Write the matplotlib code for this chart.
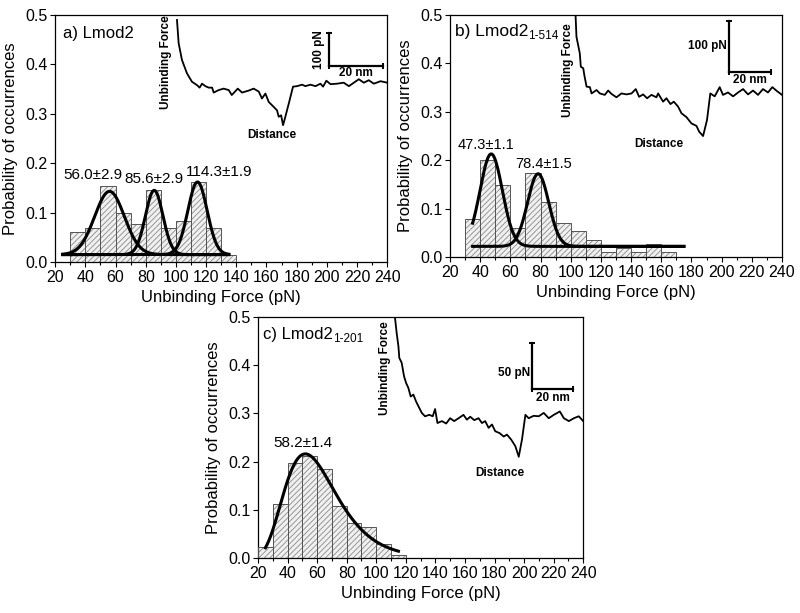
import numpy as np
import matplotlib
matplotlib.use("Agg")
import matplotlib.pyplot as plt
from matplotlib.ticker import MultipleLocator

plt.rcParams['font.family'] = ['Liberation Sans', 'DejaVu Sans']
plt.rcParams['hatch.linewidth'] = 0.6

# ---------------- data ----------------
# panel a
a_bin_left = [30, 40, 50, 60, 70, 80, 90, 100, 110, 120, 130]
a_prob = [0.061, 0.069, 0.153, 0.100, 0.076, 0.145, 0.069, 0.084, 0.161, 0.069, 0.015]
a_centers = [56.0, 85.6, 114.3]
a_amps = [0.128, 0.130, 0.147]
a_sigmas = [9.8, 5.8, 6.4]
a_base = 0.015
a_fit_range = [25, 135]
a_labels = ["56.0±2.9", "85.6±2.9", "114.3±1.9"]

# panel b
b_bin_left = [30, 40, 50, 60, 70, 80, 90, 100, 110, 120, 130, 140, 150, 160]
b_prob = [0.079, 0.200, 0.149, 0.061, 0.174, 0.114, 0.070, 0.053, 0.036, 0.010, 0.019, 0.010, 0.026, 0.010]
b_centers = [47.3, 78.4]
b_amps = [0.191, 0.150]
b_sigmas = [7.4, 7.0]
b_base = 0.022
b_fit_range = [35, 175]
b_labels = ["47.3±1.1", "78.4±1.5"]

# panel c
c_bin_left = [20, 30, 40, 50, 60, 70, 80, 90, 100, 110]
c_prob = [0.022, 0.113, 0.198, 0.212, 0.184, 0.107, 0.072, 0.064, 0.029, 0.007]
c_center = 52.0
c_amp = 0.216
c_width = 0.34
c_fit_range = [25, 115]
c_labels = ["58.2±1.4"]

# inset force traces (in main-axes data coordinates)
a_trace_x = [100.7, 101.8, 104, 107.3, 110.6, 114, 115.7, 117.3, 119.5, 121.7, 124, 125, 128.3, 131.6,
             135, 137, 141, 143.8, 148.2, 151.5, 154.9, 157, 159.3, 161.5, 164.8, 167, 168.1, 169.7,
             171, 172.5, 174.8, 177.6, 180.3, 183.6, 185.8, 189.1, 192.5, 195.8, 197.5, 199.7, 202.4,
             206.8, 211.2, 214.6, 217.9, 221.2, 224.5, 227.8, 231.1, 235.6, 240]
a_trace_y = [0.49, 0.443, 0.409, 0.382, 0.365, 0.358, 0.353, 0.361, 0.356, 0.353, 0.353, 0.343, 0.348,
             0.351, 0.348, 0.338, 0.351, 0.343, 0.347, 0.351, 0.345, 0.331, 0.341, 0.324, 0.314, 0.307,
             0.294, 0.297, 0.277, 0.294, 0.321, 0.355, 0.356, 0.359, 0.356, 0.359, 0.356, 0.361, 0.355,
             0.367, 0.360, 0.361, 0.363, 0.356, 0.363, 0.370, 0.363, 0.368, 0.361, 0.366, 0.363]

b_trace_x = [103.2, 103.8, 106, 106.7, 108.3, 109, 110.5, 112.7, 113.8, 117.1, 119.3, 122.6, 124.8, 127,
             130.3, 133.6, 137, 140.3, 143.1, 145.3, 148, 150.6, 153.5, 156.8, 157.9, 161.2, 163.4,
             166.1, 168.3, 171.1, 173.4, 176.7, 180, 183.3, 185.1, 187.7, 190.3, 192.5, 195.4, 198.7,
             200.9, 204.2, 207.6, 210.9, 214.2, 217.5, 220.8, 224.1, 227.4, 230.7, 233.6, 236.2, 240]
b_trace_y = [0.5, 0.455, 0.421, 0.393, 0.39, 0.376, 0.352, 0.351, 0.338, 0.345, 0.338, 0.335, 0.344,
             0.337, 0.33, 0.338, 0.336, 0.338, 0.347, 0.331, 0.336, 0.328, 0.335, 0.33, 0.338, 0.321,
             0.328, 0.316, 0.321, 0.311, 0.297, 0.289, 0.276, 0.271, 0.259, 0.25, 0.283, 0.338, 0.332,
             0.351, 0.335, 0.34, 0.332, 0.34, 0.347, 0.336, 0.344, 0.335, 0.347, 0.34, 0.351, 0.344, 0.335]

c_trace_x = [112.7, 113.8, 115, 115.6, 117.2, 118.8, 120.2, 121.7, 123.3, 125.1, 126.9, 128.5, 130.8,
             133, 135.9, 138.2, 139.8, 141.4, 144.4, 147.3, 150, 152.7, 155.7, 159, 161.3, 163.6, 166.3,
             169.2, 171.5, 173.7, 176, 178.3, 180.5, 183.5, 186.2, 188.4, 191.2, 194.1, 196.4, 198.6,
             200.9, 203.1, 206.5, 209.9, 213.3, 216.7, 220.1, 224.2, 226.9, 230.3, 233.7, 237, 240]
c_trace_y = [0.498, 0.467, 0.439, 0.415, 0.405, 0.377, 0.363, 0.353, 0.335, 0.339, 0.325, 0.315, 0.301,
             0.294, 0.297, 0.294, 0.309, 0.28, 0.284, 0.279, 0.29, 0.284, 0.29, 0.297, 0.287, 0.293,
             0.286, 0.29, 0.28, 0.284, 0.27, 0.277, 0.263, 0.259, 0.252, 0.256, 0.246, 0.232, 0.21,
             0.246, 0.297, 0.29, 0.295, 0.294, 0.301, 0.29, 0.297, 0.304, 0.29, 0.284, 0.29, 0.294, 0.284]

xlabel = "Unbinding Force (pN)"
ylabel = "Probability of occurrences"

fig = plt.figure(figsize=(8.0, 6.13), dpi=100)

def setup(ax):
    ax.set_xlim(20, 240)
    ax.set_ylim(0, 0.5)
    ax.xaxis.set_major_locator(MultipleLocator(20))
    ax.xaxis.set_minor_locator(MultipleLocator(10))
    ax.set_yticks(np.arange(0, 0.51, 0.1))
    ax.set_yticklabels(["0.0", "0.1", "0.2", "0.3", "0.4", "0.5"])
    ax.tick_params(axis='both', which='major', direction='out', length=3.5, width=0.8, labelsize=11.5)
    ax.tick_params(axis='x', which='major', pad=2)
    ax.tick_params(axis='y', which='major', pad=2)
    ax.tick_params(axis='both', which='minor', direction='out', length=2.5, width=0.8)
    ax.set_xlabel(xlabel, fontsize=12, labelpad=4)
    ax.set_ylabel(ylabel, fontsize=12, labelpad=5)
    for s in ax.spines.values():
        s.set_linewidth(0.9)

def hist(ax, lefts, probs):
    ax.bar(lefts, probs, width=10, align='edge', facecolor='#f0f0f0', edgecolor='#8a8a8a',
           hatch='//////', linewidth=0, zorder=2)
    ax.bar(lefts, probs, width=10, align='edge', facecolor='none', edgecolor='#555555',
           linewidth=0.7, zorder=3)

def inset(ax, tx, ty, uf_xy, dist_xy, vbar, hbar, pn_text, pn_xy, pn_rot, nm_xy):
    ax.plot(tx, ty, color='black', lw=1.3, zorder=4)
    ax.text(uf_xy[0], uf_xy[1], "Unbinding Force", rotation=90, fontsize=8.5, fontweight='bold',
            ha='center', va='center')
    ax.text(dist_xy[0], dist_xy[1], "Distance", fontsize=8.5, fontweight='bold', ha='center', va='center')
    # scale bars
    ax.plot([vbar[0], vbar[0]], [vbar[1], vbar[2]], color='black', lw=1.6)
    ax.plot([hbar[0], hbar[1]], [hbar[2], hbar[2]], color='black', lw=1.6)
    ax.plot([vbar[0]], [vbar[2]], marker='_', color='black', ms=5, mew=1.4)
    ax.plot([hbar[1]], [hbar[2]], marker='|', color='black', ms=5, mew=1.4)
    ax.plot([hbar[0]], [hbar[2]], marker='|', color='black', ms=5, mew=1.4)
    ax.text(pn_xy[0], pn_xy[1], pn_text, fontsize=8.5, fontweight='bold', rotation=pn_rot,
            ha='center' if pn_rot else 'right', va='center')
    ax.text(nm_xy[0], nm_xy[1], "20 nm", fontsize=8.5, fontweight='bold', ha='center', va='center')

def panel_label(ax, x, y, main, sub, size, subsize=8.5):
    t = ax.text(x, y, main, fontsize=size, ha='left', va='center')
    if sub:
        ax.annotate(sub, xy=(1.0, 0.0), xycoords=t, xytext=(0.3, 0), textcoords='offset points',
                    fontsize=subsize, ha='left', va='baseline')

# ---------------- panel a ----------------
ax = fig.add_axes([0.069, 0.5726, 0.415, 0.4029])
setup(ax)
hist(ax, a_bin_left, a_prob)
xf = np.linspace(a_fit_range[0], a_fit_range[1], 400)
for c, A, s in zip(a_centers, a_amps, a_sigmas):
    ax.plot(xf, a_base + A * np.exp(-(xf - c) ** 2 / (2 * s ** 2)), color='black', lw=2.2, zorder=5)
for (x, y), t in zip([(44.8, 0.176), (85.4, 0.169), (128.3, 0.182)], a_labels):
    ax.text(x, y, t, fontsize=11, ha='center', va='center')
panel_label(ax, 25, 0.463, "a) Lmod2", None, 12)
inset(ax, a_trace_x, a_trace_y, (93.5, 0.405), (163.7, 0.257),
      (201.3, 0.397, 0.463), (201.3, 237.3, 0.397), "100 pN", (194.5, 0.43), 90, (219, 0.383))

# ---------------- panel b ----------------
ax = fig.add_axes([0.5625, 0.5807, 0.415, 0.3948])
setup(ax)
hist(ax, b_bin_left, b_prob)
xf = np.linspace(b_fit_range[0], b_fit_range[1], 400)
for c, A, s in zip(b_centers, b_amps, b_sigmas):
    ax.plot(xf, b_base + A * np.exp(-(xf - c) ** 2 / (2 * s ** 2)), color='black', lw=2.2, zorder=5)
for (x, y), t in zip([(43.8, 0.232), (81.8, 0.193)], b_labels):
    ax.text(x, y, t, fontsize=10.5, ha='center', va='center')
panel_label(ax, 23, 0.465, "b) Lmod2", "1-514", 12.5)
inset(ax, b_trace_x, b_trace_y, (98.3, 0.386), (158.6, 0.234),
      (204.7, 0.382, 0.488), (204.7, 232.5, 0.382), "100 pN", (203.5, 0.435), 0, (218.6, 0.366))

# ---------------- panel c ----------------
ax = fig.add_axes([0.3225, 0.0897, 0.4065, 0.3932])
setup(ax)
hist(ax, c_bin_left, c_prob)
xf = np.linspace(c_fit_range[0], c_fit_range[1], 400)
ax.plot(xf, c_amp * np.exp(-np.log(xf / c_center) ** 2 / (2 * c_width ** 2)), color='black', lw=2.2, zorder=5)
ax.text(50.5, 0.239, c_labels[0], fontsize=11, ha='center', va='center')
panel_label(ax, 23.4, 0.463, "c) Lmod2", "1-201", 12)
inset(ax, c_trace_x, c_trace_y, (105.9, 0.394), (183.5, 0.176),
      (205.4, 0.351, 0.446), (205.4, 233.2, 0.351), "50 pN", (204.2, 0.384), 0, (219.4, 0.332))

fig.savefig("out.png", dpi=100)
